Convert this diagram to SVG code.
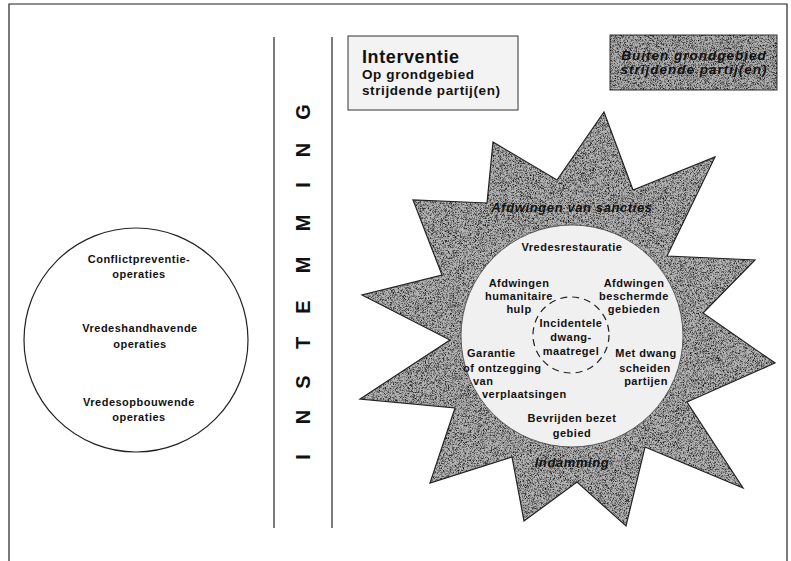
<svg xmlns="http://www.w3.org/2000/svg" width="791" height="561" viewBox="0 0 791 561">
<defs>
<style>
.t{font-family:"Liberation Sans",Arial,sans-serif;font-weight:bold;fill:#111;}
.c{text-anchor:middle;}
.s{font-size:11px;letter-spacing:0.5px;}
.i{font-style:italic;}
.ln{stroke:#222;stroke-width:1.2;fill:none;}
</style>
<filter id="speckle" x="0" y="0" width="100%" height="100%">
<feTurbulence type="fractalNoise" baseFrequency="2.6" numOctaves="1" seed="4" result="n"/>
<feColorMatrix in="n" type="matrix" values="0 0 0 0 0  0 0 0 0 0  0 0 0 0 0  2.6 0 0 0 -1.12" result="a"/>
<feComposite in="a" in2="SourceGraphic" operator="in"/>
</filter>
</defs>
<rect x="0" y="0" width="791" height="561" fill="#fff"/>
<g id="frame">
<path class="ln" d="M9,561 V4 H787 V561"/>
<line class="ln" x1="274" y1="37" x2="274" y2="528"/>
<line class="ln" x1="332" y1="37" x2="332" y2="528"/>
</g>
<g id="instemming">
<text class="t c" font-size="20" transform="translate(310,466) rotate(-90)" x="9 49 84 123 159 201 243 281 316 354" y="0">INSTEMMING</text>
</g>
<g id="consent-circle">
<circle cx="136" cy="340" r="112" fill="#fff" stroke="#222" stroke-width="1.2"/>
<text class="t c s" x="139" y="263">Conflictpreventie-</text>
<text class="t c s" x="139" y="278">operaties</text>
<text class="t c s" x="140" y="332">Vredeshandhavende</text>
<text class="t c s" x="140" y="348">operaties</text>
<text class="t c s" x="139" y="406">Vredesopbouwende</text>
<text class="t c s" x="139" y="421">operaties</text>
</g>
<g id="interventie-box">
<rect x="348" y="36" width="170" height="74" fill="#f3f3f3" stroke="#333" stroke-width="1"/>
<text class="t" x="362" y="63" font-size="18" letter-spacing="0.6">Interventie</text>
<text class="t" x="362" y="79" font-size="13.5" letter-spacing="0.6">Op grondgebied</text>
<text class="t" x="362" y="95" font-size="13.5" letter-spacing="0.6">strijdende partij(en)</text>
</g>
<g id="buiten-box">
<rect x="610" y="35" width="167" height="55" fill="#b0b0b0" stroke="#333" stroke-width="1"/>
<rect x="610" y="35" width="167" height="55" fill="#000" filter="url(#speckle)"/>
<text class="t c i" x="694" y="60" font-size="13.5" letter-spacing="1">Buiten grondgebied</text>
<text class="t c i" x="694" y="74" font-size="13.5" letter-spacing="1">strijdende partij(en)</text>
</g>
<g id="star">
<polygon points="604,112 633,190 715,157 667,256 755,260 703,313 775,363 687,402 743,488 645,447 626,526 577,482 524,521 512,457 430,483 455,408 360,399 450,340 362,295 442,275 413,200 487,203 493,142 557,180" fill="#b4b4b4"/>
<polygon points="604,112 633,190 715,157 667,256 755,260 703,313 775,363 687,402 743,488 645,447 626,526 577,482 524,521 512,457 430,483 455,408 360,399 450,340 362,295 442,275 413,200 487,203 493,142 557,180" fill="#000" filter="url(#speckle)"/>
<polygon points="604,112 633,190 715,157 667,256 755,260 703,313 775,363 687,402 743,488 645,447 626,526 577,482 524,521 512,457 430,483 455,408 360,399 450,340 362,295 442,275 413,200 487,203 493,142 557,180" fill="none" stroke="#222" stroke-width="1.2"/>
<text class="t c i" x="572" y="212" font-size="13" letter-spacing="0.6">Afdwingen van sancties</text>
<text class="t c i" x="572" y="467" font-size="13" letter-spacing="0.6">Indamming</text>
</g>
<g id="inner-circle">
<circle cx="572" cy="336" r="111" fill="#f0f0f0" stroke="#444" stroke-width="0.8"/>
<text class="t c s" x="572" y="251">Vredesrestauratie</text>
<text class="t c s" x="519" y="287">Afdwingen</text>
<text class="t c s" x="519" y="300">humanitaire</text>
<text class="t c s" x="519" y="313">hulp</text>
<text class="t c s" x="634" y="287">Afdwingen</text>
<text class="t c s" x="634" y="300">beschermde</text>
<text class="t c s" x="634" y="313">gebieden</text>
<text class="t s" x="467" y="357">Garantie</text>
<text class="t s" x="463" y="372">of ontzegging</text>
<text class="t s" x="473" y="385">van</text>
<text class="t s" x="482" y="398">verplaatsingen</text>
<text class="t c s" x="646" y="357">Met dwang</text>
<text class="t c s" x="645" y="372">scheiden</text>
<text class="t c s" x="646" y="385">partijen</text>
<text class="t c s" x="572" y="422">Bevrijden bezet</text>
<text class="t c s" x="572" y="437">gebied</text>
</g>
<g id="incidentele">
<circle cx="571" cy="335" r="38" fill="none" stroke="#222" stroke-width="1.2" stroke-dasharray="7,5"/>
<text class="t c s" x="571" y="327">Incidentele</text>
<text class="t c s" x="571" y="341">dwang-</text>
<text class="t c s" x="571" y="355">maatregel</text>
</g>
</svg>
